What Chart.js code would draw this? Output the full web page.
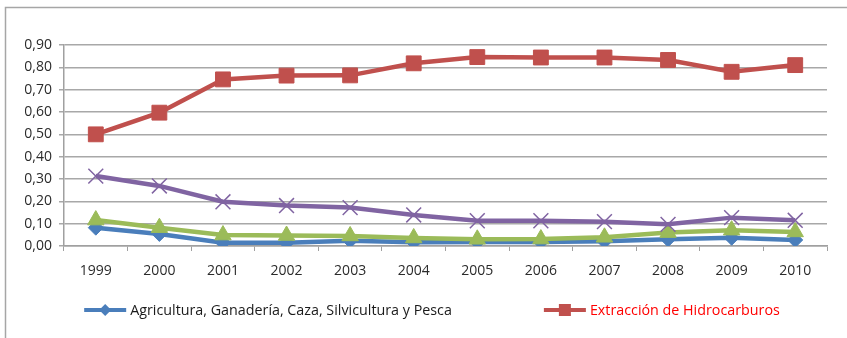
<!DOCTYPE html>
<html>
<head>
<meta charset="utf-8">
<script src="https://cdn.jsdelivr.net/npm/chart.js@4.4.1/dist/chart.umd.min.js"></script>
<style>
  html, body { margin: 0; padding: 0; background: #fff; }
  #wrap { width: 847px; height: 338px; }
</style>
</head>
<body>
<div id="wrap"><canvas id="chart" width="847" height="338"></canvas></div>
<script>
// years on the category axis
var years = ['1999', '2000', '2001', '2002', '2003', '2004', '2005', '2006', '2007', '2008', '2009', '2010'];

// participation by sector
var agricultura = [0.082, 0.054, 0.015, 0.015, 0.024, 0.017, 0.018, 0.018, 0.021, 0.030, 0.037, 0.027];
var hidrocarburos = [0.50, 0.597, 0.746, 0.763, 0.764, 0.818, 0.846, 0.844, 0.844, 0.833, 0.780, 0.810];
var serie3 = [0.116, 0.082, 0.049, 0.047, 0.045, 0.036, 0.030, 0.031, 0.039, 0.060, 0.071, 0.063];
var serie4 = [0.313, 0.269, 0.198, 0.181, 0.172, 0.139, 0.113, 0.113, 0.109, 0.097, 0.127, 0.115];

var yTicks = [0, 0.1, 0.2, 0.3, 0.4, 0.5, 0.6, 0.7, 0.8, 0.9];

var FONT = '"Open Sans", sans-serif';
var BLUE = '#4a7ebb', RED = '#c0504d', GREEN = '#9bbb59', PURPLE = '#8064a2';

// only the first two series go in the legend row
var legendColors = ['#1a1a1a', '#ff0000'];
var legendMarkers = ['diamond', 'square'];

var framePlugin = {
    id: 'frame',
    beforeDraw: function(chart) {
        var ctx = chart.ctx;
        ctx.save();
        ctx.strokeStyle = '#a6a6a6';
        ctx.lineWidth = 1.5;
        ctx.beginPath();
        ctx.moveTo(5.5, chart.height);
        ctx.lineTo(5.5, 7.5);
        ctx.lineTo(chart.width, 7.5);
        ctx.stroke();
        ctx.restore();
    }
};

// Excel-like legend: line swatch with marker, then the label
var legendPlugin = {
    id: 'rowLegend',
    afterDraw: function(chart) {
        var ctx = chart.ctx;
        var ds = chart.data.datasets;
        var font = '14.3px ' + FONT;
        var swW = 42, gapText = 4, gapItem = 92, y = 310;
        ctx.save();
        ctx.font = font;
        var widths = [0, 1].map(function(i) { return ctx.measureText(ds[i].label).width; });
        var total = swW * 2 + gapText * 2 + widths[0] + widths[1] + gapItem;
        var x = 432 - total / 2;
        for (var i = 0; i < 2; i++) {
            var color = ds[i].borderColor;
            ctx.strokeStyle = color;
            ctx.fillStyle = color;
            ctx.lineWidth = 4;
            ctx.beginPath(); ctx.moveTo(x, y); ctx.lineTo(x + swW, y); ctx.stroke();
            var cx = x + swW / 2;
            ctx.beginPath();
            if (legendMarkers[i] === 'diamond') {
                ctx.moveTo(cx, y - 6); ctx.lineTo(cx + 6, y); ctx.lineTo(cx, y + 6); ctx.lineTo(cx - 6, y);
            } else {
                ctx.rect(cx - 6, y - 6, 12, 12);
            }
            ctx.closePath(); ctx.fill();
            ctx.fillStyle = legendColors[i];
            ctx.textBaseline = 'middle';
            ctx.textAlign = 'left';
            ctx.fillText(ds[i].label, x + swW + gapText, y + 1);
            x += swW + gapText + widths[i] + gapItem;
        }
        ctx.restore();
    }
};

function lineSet(label, data, color, style, radius, order) {
    return {
        label: label,
        data: data,
        borderColor: color,
        backgroundColor: color,
        borderWidth: 4.5,
        pointStyle: style,
        pointRadius: radius,
        pointHoverRadius: radius,
        pointBorderWidth: style === 'crossRot' ? 1.5 : 1,
        pointBorderColor: color,
        pointBackgroundColor: color,
        tension: 0,
        order: order
    };
}

new Chart(document.getElementById('chart'), {
    type: 'line',
    data: {
        labels: years,
        datasets: [
            lineSet('Agricultura, Ganadería, Caza, Silvicultura y Pesca', agricultura, BLUE, 'rectRot', 7.5, 4),
            lineSet('Extracción de Hidrocarburos', hidrocarburos, RED, 'rect', 10.5, 3),
            lineSet('Serie 3', serie3, GREEN, 'triangle', 9.5, 2),
            lineSet('Serie 4', serie4, PURPLE, 'crossRot', 10.5, 1)
        ]
    },
    options: {
        responsive: false,
        animation: false,
        layout: { padding: { left: 0, right: 20, top: 45, bottom: 50 } },
        plugins: {
            tooltip: { enabled: false },
            legend: { display: false }
        },
        scales: {
            x: {
                offset: true,
                grid: {
                    offset: true,
                    drawOnChartArea: false,
                    color: '#a0a0a0',
                    tickLength: 5
                },
                border: { color: '#a0a0a0', width: 1.5 },
                ticks: {
                    color: '#2b2b2b',
                    font: { family: FONT, size: 14 },
                    padding: 12,
                    maxRotation: 0,
                    autoSkip: false
                },
                afterFit: function(scale) { scale.height = 42; }
            },
            y: {
                min: 0,
                max: 0.9,
                afterBuildTicks: function(scale) {
                    scale.ticks = yTicks.map(function(v) { return { value: v }; });
                },
                grid: { color: '#a8a8a8', lineWidth: 1.5, tickLength: 5 },
                border: { color: '#a0a0a0', width: 1.5 },
                ticks: {
                    color: '#2b2b2b',
                    font: { family: FONT, size: 14 },
                    padding: 7,
                    autoSkip: false,
                    callback: function(v) { return v.toFixed(2).replace('.', ','); }
                },
                afterFit: function(scale) { scale.width = 64; }
            }
        }
    },
    plugins: [framePlugin, legendPlugin]
});
</script>
</body>
</html>
